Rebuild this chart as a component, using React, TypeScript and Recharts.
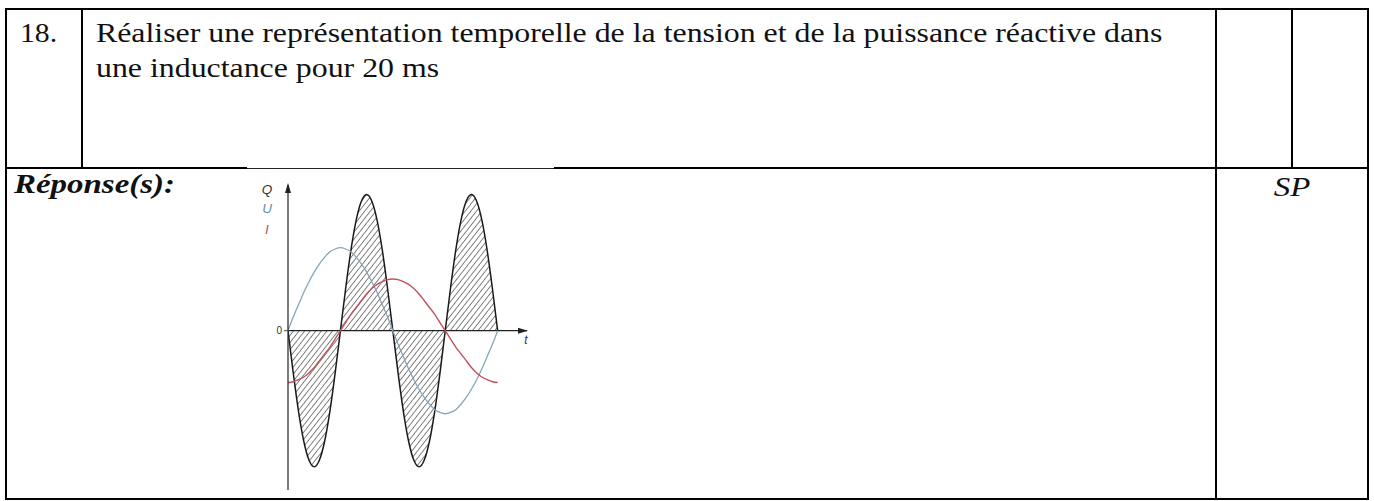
import {
  Area,
  ComposedChart,
  Line,
  ReferenceDot,
  ReferenceLine,
  XAxis,
  YAxis,
} from "recharts";

// time in ms, one period of the 50 Hz voltage
const temps = [
  0, 0.5, 1, 1.5, 2, 2.5, 3, 3.5, 4, 4.5, 5, 5.5, 6, 6.5, 7, 7.5, 8, 8.5, 9,
  9.5, 10, 10.5, 11, 11.5, 12, 12.5, 13, 13.5, 14, 14.5, 15, 15.5, 16, 16.5, 17,
  17.5, 18, 18.5, 19, 19.5, 20,
];

// reactive power Q (hatched), twice the frequency of U
const puissanceQ = [
  0, -3.1, -5.9, -8.1, -9.5, -10, -9.5, -8.1, -5.9, -3.1, 0,
  3.1, 5.9, 8.1, 9.5, 10, 9.5, 8.1, 5.9, 3.1, 0,
  -3.1, -5.9, -8.1, -9.5, -10, -9.5, -8.1, -5.9, -3.1, 0,
  3.1, 5.9, 8.1, 9.5, 10, 9.5, 8.1, 5.9, 3.1, 0,
];

// voltage U
const tensionU = [
  0, 1.0, 1.9, 2.8, 3.6, 4.3, 4.9, 5.4, 5.8, 6.0, 6.1,
  6.0, 5.8, 5.4, 4.9, 4.3, 3.6, 2.8, 1.9, 1.0, 0,
  -1.0, -1.9, -2.8, -3.6, -4.3, -4.9, -5.4, -5.8, -6.0, -6.1,
  -6.0, -5.8, -5.4, -4.9, -4.3, -3.6, -2.8, -1.9, -1.0, 0,
];

// current I, lagging U by a quarter period
const courantI = [
  -3.8, -3.75, -3.6, -3.4, -3.1, -2.7, -2.2, -1.7, -1.2, -0.6, 0,
  0.6, 1.2, 1.7, 2.2, 2.7, 3.1, 3.4, 3.6, 3.75, 3.8,
  3.75, 3.6, 3.4, 3.1, 2.7, 2.2, 1.7, 1.2, 0.6, 0,
  -0.6, -1.2, -1.7, -2.2, -2.7, -3.1, -3.4, -3.6, -3.75, -3.8,
];

const data = temps.map((t, k) => ({
  t,
  q: puissanceQ[k],
  u: tensionU[k],
  i: courantI[k],
}));

const serif = '"Liberation Serif", "Times New Roman", serif';
const sans = '"Liberation Sans", Arial, sans-serif';

function FlecheQ(props: any) {
  const { cx, cy } = props;
  const lettre = { fontFamily: sans, fontSize: 13.5, fontStyle: "italic" as const };
  return (
    <g>
      <path
        d={`M${cx},${cy - 2} L${cx - 3},${cy + 8} L${cx + 3},${cy + 8} Z`}
        fill="#222"
      />
      <text x={cx - 21} y={cy + 9} textAnchor="middle" fill="#333" style={lettre}>
        Q
      </text>
      <text x={cx - 21} y={cy + 28} textAnchor="middle" fill="#5f8fae" style={lettre}>
        U
      </text>
      <text x={cx - 21} y={cy + 49} textAnchor="middle" fill="#c0505e" style={lettre}>
        I
      </text>
    </g>
  );
}

function FlecheT(props: any) {
  const { cx, cy } = props;
  return (
    <g>
      <path
        d={`M${cx + 1},${cy} L${cx - 9},${cy - 3} L${cx - 9},${cy + 3} Z`}
        fill="#222"
      />
      <text
        x={cx - 1}
        y={cy + 13}
        textAnchor="middle"
        fill="#333"
        style={{ fontFamily: sans, fontSize: 12, fontStyle: "italic" }}
      >
        t
      </text>
    </g>
  );
}

function Graphe() {
  return (
    <ComposedChart
      width={300}
      height={330}
      data={data}
      margin={{ top: 15, right: 13, bottom: 10, left: 28 }}
    >
      <defs>
        <pattern
          id="hachures"
          patternUnits="userSpaceOnUse"
          width={4.4}
          height={10}
          patternTransform="rotate(38)"
        >
          <line x1={0} y1={0} x2={0} y2={10} stroke="#1e1e1e" strokeWidth={1.1} />
        </pattern>
      </defs>
      <XAxis dataKey="t" type="number" domain={[0, 22.8]} allowDataOverflow hide />
      <YAxis
        type="number"
        domain={[-11.7, 10.7]}
        allowDataOverflow
        ticks={[0]}
        width={20}
        tickSize={4}
        axisLine={{ stroke: "#222", strokeWidth: 1.2 }}
        tickLine={{ stroke: "#444" }}
        tick={{ fontSize: 10, fill: "#333", fontFamily: sans }}
      />
      <ReferenceLine y={0} stroke="#222" strokeWidth={1.2} />
      <Area
        type="monotone"
        dataKey="q"
        baseValue={0}
        stroke="#1a1a1a"
        strokeWidth={1.5}
        fill="url(#hachures)"
        fillOpacity={1}
        isAnimationActive={false}
      />
      <Line
        type="monotone"
        dataKey="u"
        stroke="#84a6b9"
        strokeWidth={1.3}
        dot={false}
        isAnimationActive={false}
      />
      <Line
        type="monotone"
        dataKey="i"
        stroke="#c2505e"
        strokeWidth={1.4}
        dot={false}
        isAnimationActive={false}
      />
      <ReferenceDot x={0} y={10.7} r={0} ifOverflow="visible" shape={FlecheQ} />
      <ReferenceDot x={22.8} y={0} r={0} ifOverflow="visible" shape={FlecheT} />
    </ComposedChart>
  );
}

// the document text is set a little wider than the plain serif face
function Texte({ x, y, sx = 1.18, anchor = "start", style, children }: any) {
  return (
    <g transform={`translate(${x},${y}) scale(${sx},1)`}>
      <text x={0} y={0} textAnchor={anchor} fill="#111" style={{ fontFamily: serif, fontSize: 27, ...style }}>
        {children}
      </text>
    </g>
  );
}

export default function App() {
  const trait = "#000";
  return (
    <div style={{ position: "absolute", left: 0, top: 0, width: 1374, height: 501, background: "#fff" }}>
      <svg width={1374} height={501} style={{ position: "absolute", left: 0, top: 0 }}>
        {/* table frame */}
        <rect x={6} y={9} width={1362} height={490} fill="none" stroke={trait} strokeWidth={2} />
        <line x1={6} y1={168} x2={247} y2={168} stroke={trait} strokeWidth={2} />
        <line x1={247} y1={168.5} x2={554} y2={168.5} stroke="#222" strokeWidth={1} />
        <line x1={554} y1={168} x2={1368} y2={168} stroke={trait} strokeWidth={2} />
        <line x1={82} y1={9} x2={82} y2={168} stroke={trait} strokeWidth={2} />
        <line x1={1216} y1={9} x2={1216} y2={499} stroke={trait} strokeWidth={2} />
        <line x1={1292} y1={9} x2={1292} y2={168} stroke={trait} strokeWidth={2} />

        <Texte x={20} y={42} sx={1.1}>18.</Texte>
        <Texte x={96} y={42}>
          Réaliser une représentation temporelle de la tension et de la puissance réactive dans
        </Texte>
        <Texte x={96} y={77}>une inductance pour 20 ms</Texte>
        <Texte x={14} y={193} sx={1.22} style={{ fontWeight: "bold", fontStyle: "italic" }}>
          Réponse(s):
        </Texte>
        <Texte x={1292} y={196} sx={1.22} anchor="middle" style={{ fontStyle: "italic" }}>
          SP
        </Texte>
      </svg>
      <div style={{ position: "absolute", left: 240, top: 170 }}>
        <Graphe />
      </div>
    </div>
  );
}
